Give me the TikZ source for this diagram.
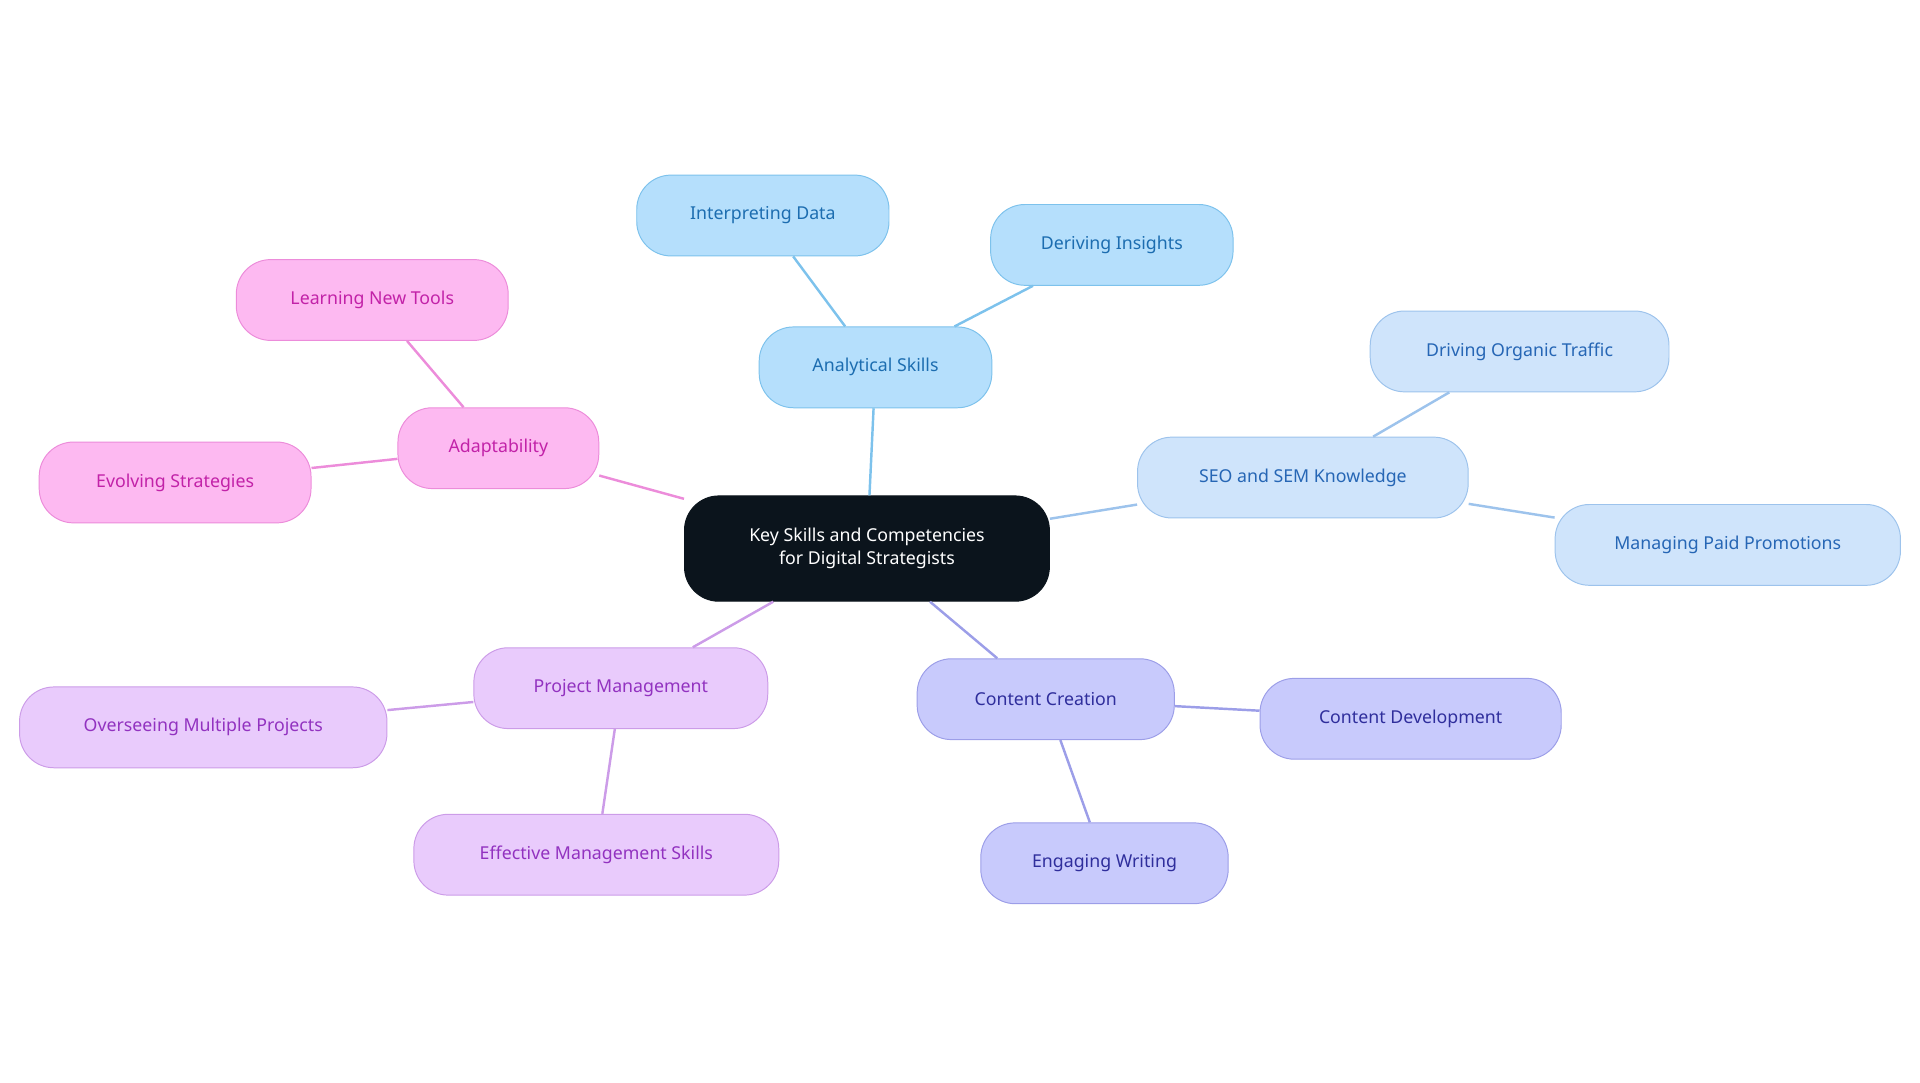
\documentclass[tikz,border=0pt]{standalone}
\usepackage{fontspec}
\setmainfont{Noto Sans}
\definecolor{bA}{HTML}{B5DFFC}\definecolor{dA}{HTML}{7DC2EC}\definecolor{tA}{HTML}{1C6DB0}
\definecolor{bS}{HTML}{CFE4FB}\definecolor{dS}{HTML}{9DC3EC}\definecolor{tS}{HTML}{2666B5}
\definecolor{bC}{HTML}{C8CAFC}\definecolor{dC}{HTML}{9C9EE8}\definecolor{tC}{HTML}{2F2E9C}
\definecolor{bP}{HTML}{E9CBFC}\definecolor{dP}{HTML}{CC9CE8}\definecolor{tP}{HTML}{9232C0}
\definecolor{bD}{HTML}{FDB9F1}\definecolor{dD}{HTML}{EC8CDA}\definecolor{tD}{HTML}{C222A8}
\definecolor{root}{HTML}{0B141C}
\begin{document}
\begin{tikzpicture}[x=1pt,y=-1pt,
 n/.style={rounded corners=28pt,minimum height=66pt,inner sep=0pt,font=\fontsize{14.5}{16}\selectfont,line width=0.8pt},
 A/.style={n,fill=bA,draw=dA,text=tA},
 S/.style={n,fill=bS,draw=dS,text=tS},
 C/.style={n,fill=bC,draw=dC,text=tC},
 P/.style={n,fill=bP,draw=dP,text=tP},
 D/.style={n,fill=bD,draw=dD,text=tD},
 e/.style={line width=2pt}]
\useasboundingbox (0,0) rectangle (1568,884);
\node[n,fill=root,draw=root,text=white,minimum width=298pt,minimum height=86pt,align=center,font=\fontsize{14.5}{19}\selectfont] (r) at (708,448) {Key Skills and Competencies\\for Digital Strategists};
\node[A,minimum width=190pt] (a) at (715,300) {Analytical Skills};
\node[A,minimum width=206pt] (a1) at (623,176) {Interpreting Data};
\node[A,minimum width=198pt] (a2) at (908,200) {Deriving Insights};
\node[S,minimum width=270pt] (s) at (1064,390) {SEO and SEM Knowledge};
\node[S,minimum width=244pt] (s1) at (1241,287) {Driving Organic Traffic};
\node[S,minimum width=282pt] (s2) at (1411,445) {Managing Paid Promotions};
\node[C,minimum width=210pt] (c) at (854,571) {Content Creation};
\node[C,minimum width=246pt] (c1) at (1152,587) {Content Development};
\node[C,minimum width=202pt] (c2) at (902,705) {Engaging Writing};
\node[P,minimum width=240pt] (p) at (507,562) {Project Management};
\node[P,minimum width=300pt] (p1) at (166,594) {Overseeing Multiple Projects};
\node[P,minimum width=298pt] (p2) at (487,698) {Effective Management Skills};
\node[D,minimum width=164pt] (d) at (407,366) {Adaptability};
\node[D,minimum width=222pt] (d1) at (304,245) {Learning New Tools};
\node[D,minimum width=222pt] (d2) at (143,394) {Evolving Strategies};
\begin{scope}[on background layer/.style={}]
\end{scope}
\begin{pgfonlayer}{main}\end{pgfonlayer}
\draw[e,dA] (r) -- (a); \draw[e,dA] (a) -- (a1); \draw[e,dA] (a) -- (a2);
\draw[e,dS] (r) -- (s); \draw[e,dS] (s) -- (s1); \draw[e,dS] (s) -- (s2);
\draw[e,dC] (r) -- (c); \draw[e,dC] (c) -- (c1); \draw[e,dC] (c) -- (c2);
\draw[e,dP] (r) -- (p); \draw[e,dP] (p) -- (p1); \draw[e,dP] (p) -- (p2);
\draw[e,dD] (r) -- (d); \draw[e,dD] (d) -- (d1); \draw[e,dD] (d) -- (d2);
\end{tikzpicture}
\end{document}
